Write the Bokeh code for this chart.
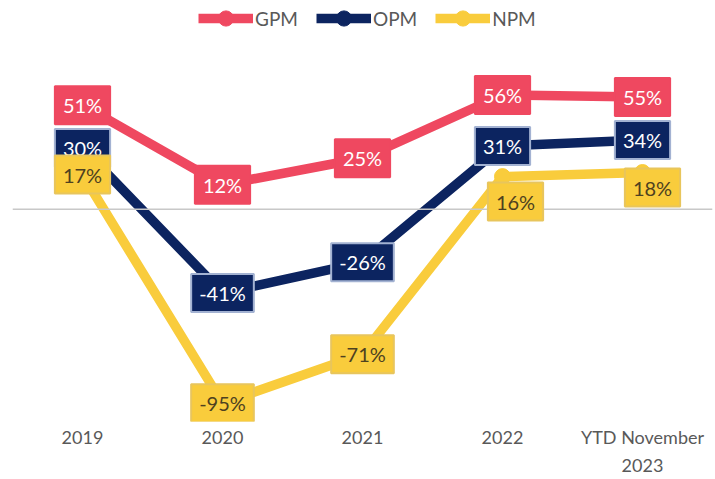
from bokeh.plotting import figure
from bokeh.models import ColumnDataSource, Label, Span, Legend, LegendItem, FactorRange
from bokeh.embed import file_html
from bokeh.resources import INLINE

categories = ["2019", "2020", "2021", "2022", "YTD November\n2023"]
gpm = [51, 12, 25, 56, 55]
opm = [30, -41, -26, 31, 34]
npm = [17, -95, -71, 16, 18]

FONT = "Lato"
GPM_C = "#EF4860"
OPM_C = "#0C2460"
NPM_C = "#F9CC3C"

FRAME_H = 427
p = figure(width=713, height=479, x_range=FactorRange(*categories, range_padding=0),
           y_range=(-104.0, 102.3), output_backend="svg", toolbar_location=None,
           min_border_left=12, min_border_right=1, min_border_top=0, min_border_bottom=52)
p.outline_line_color = None
p.xgrid.visible = False
p.ygrid.visible = False
p.yaxis.visible = False
p.xaxis.axis_line_color = None
p.xaxis.major_tick_line_color = None
p.xaxis.minor_tick_line_color = None
p.xaxis.major_tick_out = 0
p.xaxis.major_label_text_font = FONT
p.xaxis.major_label_text_font_size = "18px"
p.xaxis.major_label_text_line_height = 1.3
p.xaxis.major_label_text_color = "#595959"
p.xaxis.major_label_standoff = 4

p.add_layout(Span(location=0, dimension="width", line_color="#C8C8C8", line_width=1.5))

items = []
series = [("GPM", gpm, GPM_C, "white", GPM_C, [0]*5, [0]*5),
          ("OPM", opm, OPM_C, "white", "#A3B2D2", [0]*5, [0]*5),
          ("NPM", npm, NPM_C, "#4E4120", "#E8C55C", [0, 0, 0, 13, 10], [0, 0, 0, -25, -15])]
labels = []
for name, vals, col, tcol, bcol, xo, yo in series:
    src = ColumnDataSource(dict(x=categories, y=vals))
    r1 = p.line("x", "y", source=src, line_color=col, line_width=9.5)
    r2 = p.scatter("x", "y", source=src, size=16, fill_color=col, line_color=col)
    items.append(LegendItem(label=name, renderers=[r1, r2]))
    for i, v in enumerate(vals):
        labels.append(Label(x=i + 0.5, y=v, text=f"{v}%", x_offset=xo[i], y_offset=yo[i],
                            text_align="center", text_baseline="middle",
                            text_font=FONT, text_font_size="20px", text_color=tcol,
                            background_fill_color=col, border_line_color=bcol,
                            border_line_width=2, padding=(8, 7)))
for lb in labels:
    p.add_layout(lb)

legend = Legend(items=items, orientation="horizontal", location=(186, FRAME_H - 43),
                border_line_color=None, background_fill_alpha=0,
                label_text_font=FONT, label_text_font_size="19px", label_text_color="#595959",
                glyph_width=55, glyph_height=38, spacing=18, label_standoff=2,
                margin=0, padding=0)
p.add_layout(legend)

open("out.html", "w").write(file_html(p, INLINE))
